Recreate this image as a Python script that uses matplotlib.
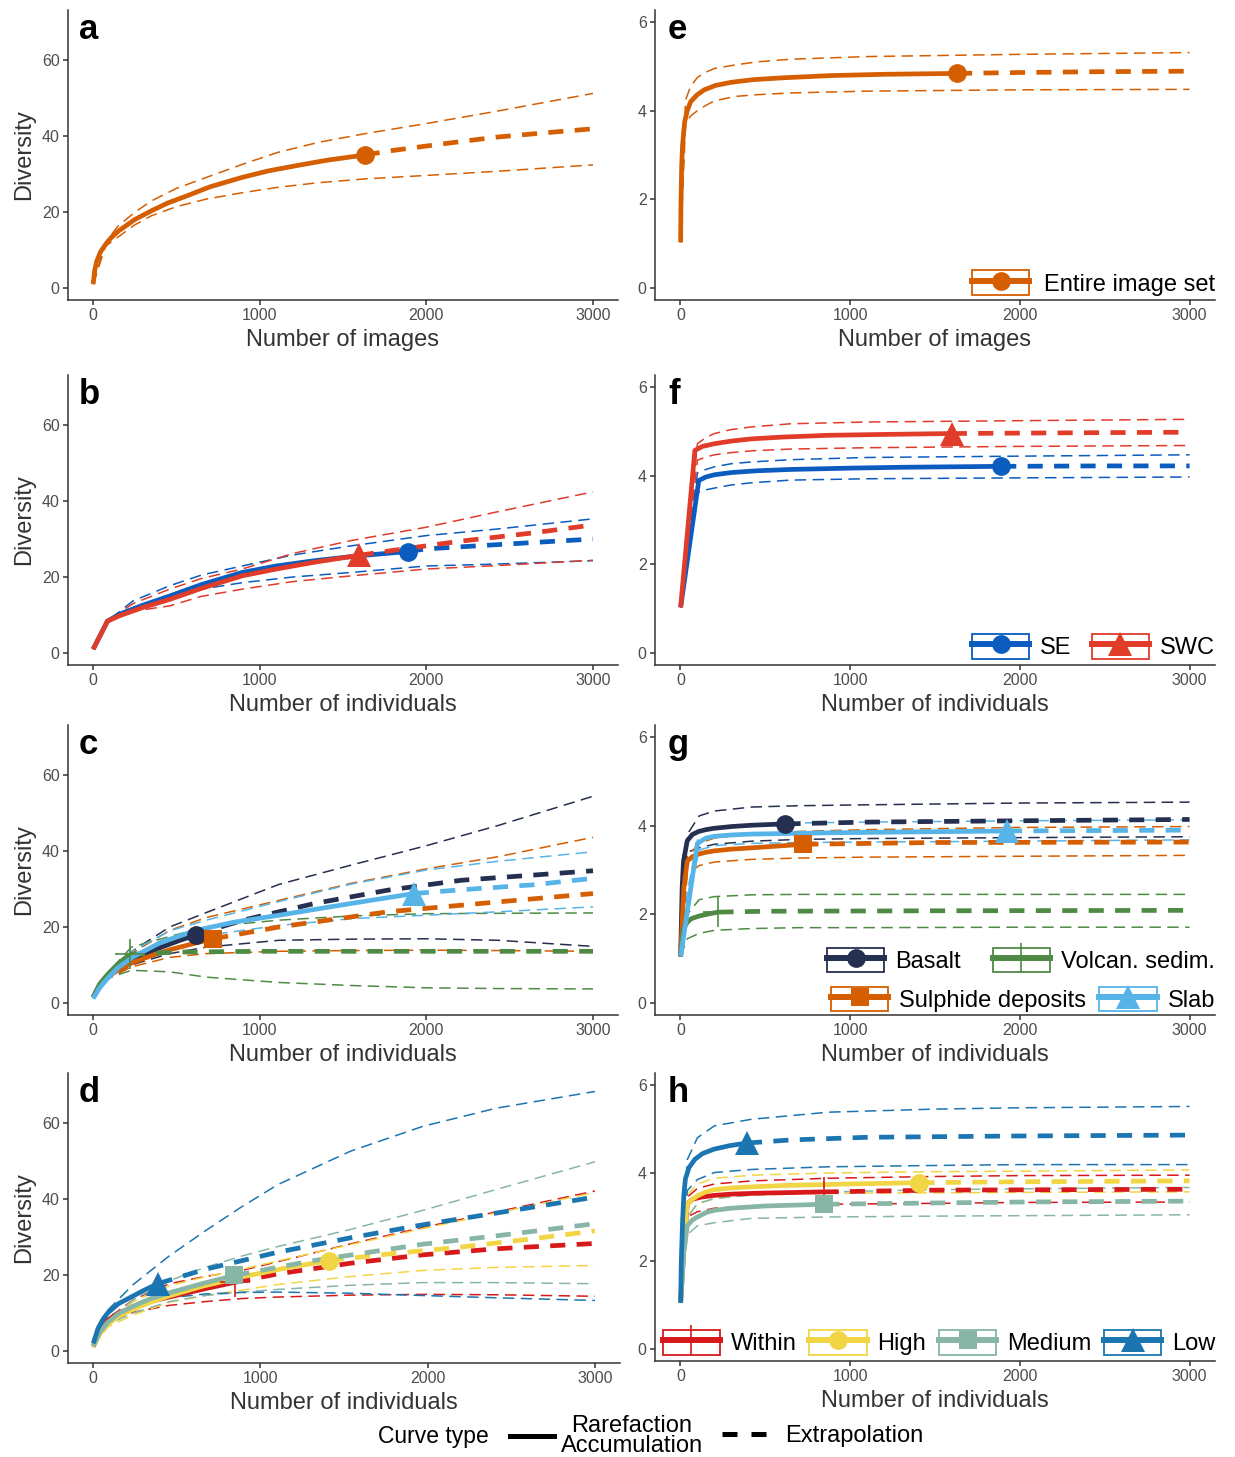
import numpy as np
import matplotlib
matplotlib.use("Agg")
import matplotlib.pyplot as plt
from matplotlib.lines import Line2D
from matplotlib.patches import Rectangle
from matplotlib.legend_handler import HandlerLine2D

plt.rcParams['font.family'] = ['Liberation Sans', 'DejaVu Sans']

# ---------------- data ----------------
# a / e : entire image set (x = number of images)
a_groups = ["Entire image set"]
a_obs_x = [1630]
a_obs_y = [35.0]
a_rare_x = [[1, 10, 22, 45, 76, 110, 153, 250, 350, 450, 567, 700, 894, 1050, 1221, 1400, 1630]]
a_rare_y = [[1, 4.5, 7, 9.5, 11.5, 13.3, 15, 18, 20.3, 22.4, 24.3, 26.6, 29.1, 30.8, 32.2, 33.6, 35.0]]
a_ext_x = [[1630, 1800, 1990, 2200, 2420, 2700, 3000]]
a_ext_y = [[35.0, 36.2, 37.3, 38.5, 39.7, 40.8, 41.9]]
a_ci_x = [1, 75, 150, 250, 350, 500, 680, 900, 1110, 1350, 1630, 1990, 2420, 3000]
a_lo = [[1, 11, 13.4, 16.6, 19.0, 21.4, 23.4, 25.1, 26.5, 27.7, 28.7, 29.6, 30.7, 32.4]]
a_hi = [[1, 12, 16.3, 19.9, 22.9, 26.2, 29.1, 32.6, 35.7, 38.3, 40.6, 43.2, 46.5, 51.2]]

e_obs_x = [1630]
e_obs_y = [4.84]
e_rare_x = [[1, 3, 7, 12, 18, 25, 40, 60, 96, 140, 208, 300, 431, 600, 878, 1200, 1630]]
e_rare_y = [[1.03, 1.9, 2.72, 3.2, 3.47, 3.75, 4.0, 4.2, 4.35, 4.47, 4.57, 4.64, 4.70, 4.74, 4.79, 4.82, 4.84]]
e_ext_x = [[1630, 2000, 2500, 3000]]
e_ext_y = [[4.84, 4.86, 4.88, 4.89]]
e_ci_x = [1, 30, 60, 100, 150, 200, 320, 450, 650, 1100, 2000, 3000]
e_lo = [[1.03, 3.7, 3.88, 4.0, 4.12, 4.22, 4.32, 4.36, 4.4, 4.44, 4.47, 4.48]]
e_hi = [[1.03, 4.24, 4.55, 4.75, 4.87, 4.95, 5.03, 5.1, 5.16, 5.22, 5.27, 5.31]]

# b / f : SE vs SWC
b_groups = ["SE", "SWC"]
b_obs_x = [1890, 1594]
b_obs_y = [26.7, 25.7]
b_rare_x = [[1, 87, 165, 300, 460, 650, 895, 1100, 1330, 1600, 1890],
            [1, 87, 165, 300, 460, 650, 895, 1100, 1330, 1594]]
b_rare_y = [[1, 8.4, 10.3, 12.6, 15.0, 18.0, 21.2, 22.9, 24.3, 25.6, 26.7],
            [1, 8.4, 9.9, 12.0, 14.1, 17.0, 20.3, 22.1, 23.9, 25.7]]
b_ext_x = [[1890, 2000, 2420, 3000], [1594, 1800, 2200, 2640, 3000]]
b_ext_y = [[26.7, 27.4, 28.5, 30.0], [25.7, 27.0, 29.4, 31.6, 33.7]]
b_ci_x = [1, 87, 240, 460, 650, 895, 1200, 1550, 2000, 2420, 3000]
b_lo = [[1, 8.4, 11.9, 14.6, 16.8, 18.5, 20.0, 21.2, 22.9, 23.4, 24.3],
        [1, 8.4, 11.0, 12.4, 14.9, 16.8, 18.8, 20.3, 22.1, 23.0, 24.4]]
b_hi = [[1, 8.4, 13.7, 17.7, 20.5, 22.9, 25.8, 28.2, 30.9, 32.6, 35.3],
        [1, 8.4, 13.0, 16.8, 19.6, 22.1, 26.2, 29.6, 33.1, 37.1, 42.4]]

f_obs_x = [1890, 1599]
f_obs_y = [4.21, 4.95]
f_rare_x = [[1, 108, 150, 200, 300, 450, 650, 1000, 1320, 1890],
            [1, 85, 130, 200, 300, 420, 600, 870, 1200, 1599]]
f_rare_y = [[1.03, 3.89, 3.97, 4.02, 4.07, 4.11, 4.14, 4.17, 4.19, 4.21],
            [1.03, 4.57, 4.66, 4.72, 4.78, 4.83, 4.87, 4.91, 4.93, 4.95]]
f_ext_x = [[1890, 2500, 3000], [1599, 2000, 2500, 3000]]
f_ext_y = [[4.21, 4.22, 4.22], [4.95, 4.96, 4.97, 4.98]]
f_ci_x = [1, 100, 150, 200, 300, 420, 650, 1100, 2000, 3000]
f_lo = [[1.03, 3.62, 3.68, 3.72, 3.79, 3.84, 3.9, 3.93, 3.95, 3.97],
        [1.03, 4.35, 4.42, 4.47, 4.52, 4.56, 4.6, 4.63, 4.66, 4.68]]
f_hi = [[1.03, 4.06, 4.14, 4.2, 4.27, 4.31, 4.36, 4.41, 4.44, 4.47],
        [1.03, 4.72, 4.86, 4.95, 5.04, 5.1, 5.17, 5.21, 5.24, 5.27]]

# c / g : substrate
c_groups = ["Basalt", "Sulphide deposits", "Volcan. sedim.", "Slab"]
c_obs_x = [616, 721, 220, 1925]
c_obs_y = [18.0, 16.9, 12.8, 28.8]
c_rare_x = [[1, 40, 87, 150, 230, 340, 460, 616],
            [1, 40, 87, 150, 230, 340, 460, 600, 721],
            [1, 40, 87, 150, 220],
            [1, 40, 87, 150, 240, 400, 616, 850, 1115, 1550, 1925]]
c_rare_y = [[1.5, 4.8, 7.0, 9.0, 11.2, 13.5, 15.5, 18.0],
            [1.5, 4.6, 6.8, 8.7, 10.5, 12.3, 14.0, 15.6, 16.9],
            [1.5, 5.0, 7.5, 10.3, 12.8],
            [1.2, 4.0, 6.5, 9.3, 12.1, 15.8, 19.1, 21.3, 23.1, 26.2, 28.8]]
c_ext_x = [[616, 900, 1330, 1770, 2210, 3000], [721, 1115, 1770, 2430, 3000],
           [220, 500, 1000, 2000, 3000], [1925, 2210, 2640, 3000]]
c_ext_y = [[18.0, 21.8, 26.2, 29.7, 32.3, 34.8], [16.9, 20.0, 24.0, 26.6, 28.8],
           [12.8, 13.4, 13.6, 13.6, 13.6], [28.8, 29.8, 31.1, 32.8]]
c_ci_x = [1, 87, 230, 460, 680, 1115, 1550, 2000, 2430, 3000]
c_lo = [[1.5, 6.5, 10.0, 13.0, 14.7, 16.5, 16.8, 16.9, 16.5, 14.9],
        [1.5, 6.3, 9.5, 12.0, 13.0, 13.6, 13.8, 13.9, 13.8, 13.6],
        [1.5, 6.5, 8.6, 8.2, 6.8, 5.4, 4.6, 4.0, 3.8, 3.7],
        [1.2, 6.0, 10.8, 15.5, 17.8, 20.4, 22.2, 23.1, 24.0, 25.3]]
c_hi = [[1.5, 7.5, 13.5, 20.0, 23.8, 31.2, 36.3, 41.4, 46.7, 54.4],
        [1.5, 7.5, 13.0, 19.1, 22.5, 27.0, 31.5, 35.3, 38.5, 43.6],
        [1.5, 7.8, 14.7, 17.5, 20.0, 21.8, 22.9, 23.5, 23.6, 23.7],
        [1.2, 7.0, 13.5, 19.0, 21.8, 26.7, 31.3, 35.0, 37.3, 39.8]]

g_obs_x = [619, 724, 224, 1924]
g_obs_y = [4.04, 3.58, 2.05, 3.88]
g_rare_x = [[1, 10, 18, 40, 70, 108, 150, 197, 300, 421, 619],
            [1, 20, 40, 70, 108, 150, 197, 300, 421, 724],
            [1, 18, 40, 63, 100, 130, 180, 224],
            [1, 100, 150, 200, 300, 420, 900, 1400, 1924]]
g_rare_y = [[1.05, 2.6, 3.2, 3.66, 3.8, 3.87, 3.91, 3.94, 3.98, 4.01, 4.04],
            [1.05, 2.6, 3.2, 3.3, 3.36, 3.4, 3.43, 3.47, 3.5, 3.58],
            [1.05, 1.67, 1.82, 1.9, 1.95, 1.98, 2.02, 2.05],
            [1.05, 3.6, 3.72, 3.76, 3.79, 3.81, 3.84, 3.86, 3.88]]
g_ext_x = [[619, 1094, 1991, 3000], [724, 1500, 3000], [224, 500, 1500, 3000], [1924, 2500, 3000]]
g_ext_y = [[4.04, 4.08, 4.11, 4.14], [3.58, 3.62, 3.63], [2.05, 2.07, 2.08, 2.09], [3.88, 3.89, 3.9]]
g_ci_x = [1, 40, 110, 200, 420, 700, 1100, 2000, 3000]
g_lo = [[1.05, 3.4, 3.5, 3.58, 3.65, 3.69, 3.71, 3.73, 3.75],
        [1.05, 2.9, 3.1, 3.18, 3.24, 3.27, 3.29, 3.31, 3.33],
        [1.05, 1.45, 1.57, 1.64, 1.68, 1.7, 1.7, 1.71, 1.71],
        [1.05, 2.2, 3.45, 3.55, 3.6, 3.62, 3.63, 3.65, 3.68]]
g_hi = [[1.05, 3.8, 4.22, 4.33, 4.42, 4.45, 4.47, 4.51, 4.53],
        [1.05, 3.3, 3.6, 3.72, 3.82, 3.87, 3.91, 3.96, 3.98],
        [1.05, 2.0, 2.33, 2.4, 2.44, 2.45, 2.45, 2.45, 2.45],
        [1.05, 2.5, 3.85, 3.95, 4.02, 4.06, 4.08, 4.11, 4.13]]

# d / h : distance class
d_groups = ["Within", "High", "Medium", "Low"]
d_obs_x = [850, 1409, 845, 386]
d_obs_y = [18.1, 23.8, 19.9, 17.7]
d_rare_x = [[1, 40, 87, 150, 240, 340, 455, 670, 850],
            [1, 40, 87, 150, 240, 340, 455, 650, 890, 1150, 1409],
            [1, 40, 87, 150, 240, 340, 455, 650, 845],
            [1, 30, 60, 87, 150, 240, 310, 386]]
d_rare_y = [[1.1, 5.5, 8.1, 9.9, 11.6, 13.0, 14.2, 16.4, 18.1],
            [1.1, 4.5, 7.0, 9.1, 11.0, 12.8, 14.5, 17.0, 19.5, 21.8, 23.8],
            [1.3, 5.0, 7.5, 9.8, 11.8, 13.7, 15.3, 17.7, 19.9],
            [2.0, 6.0, 8.4, 10.0, 12.4, 14.5, 16.1, 17.7]]
d_ext_x = [[850, 1105, 1540, 1970, 2410, 3000], [1409, 1760, 2190, 2620, 3000],
           [845, 1320, 1970, 2410, 3000], [386, 670, 1105, 1540, 1970, 2410, 3000]]
d_ext_y = [[18.1, 20.3, 23.1, 25.3, 26.9, 28.3], [23.8, 25.5, 27.3, 29.5, 31.6],
           [19.9, 23.8, 28.1, 30.3, 33.5], [17.7, 21.5, 26.0, 29.8, 33.2, 36.3, 40.5]]
d_ci_x = [1, 87, 240, 455, 670, 890, 1105, 1540, 1970, 2410, 3000]
d_lo = [[1.1, 7.7, 10.2, 12.0, 13.0, 13.8, 14.2, 14.7, 14.9, 14.8, 14.4],
        [1.1, 6.3, 9.5, 12.8, 14.6, 16.0, 17.5, 19.6, 21.2, 22.0, 22.5],
        [1.3, 7.0, 10.0, 13.0, 14.6, 15.5, 16.2, 17.3, 18.0, 18.0, 17.7],
        [2.0, 9.0, 12.0, 14.0, 15.0, 15.4, 15.5, 15.2, 14.6, 14.0, 13.3]]
d_hi = [[1.1, 8.5, 13.5, 17.7, 19.6, 21.2, 23.5, 28.2, 32.5, 36.6, 42.1],
        [1.1, 7.5, 13.0, 17.2, 19.5, 21.5, 23.7, 28.0, 32.2, 36.3, 41.7],
        [1.3, 8.0, 13.5, 18.5, 22.0, 25.0, 27.5, 32.0, 37.0, 42.5, 49.8],
        [2.0, 10.7, 17.5, 25.0, 31.6, 38.0, 43.8, 52.6, 59.1, 63.9, 68.3]]

h_obs_x = [843, 1408, 848, 392]
h_obs_y = [3.57, 3.78, 3.29, 4.68]
h_rare_x = [[1, 20, 40, 70, 120, 197, 300, 450, 843],
            [1, 20, 40, 70, 100, 150, 197, 300, 450, 646, 1000, 1408],
            [1, 20, 40, 70, 100, 150, 197, 300, 500, 848],
            [1, 5, 13, 20, 29, 50, 85, 130, 197, 290, 392]]
h_rare_y = [[1.05, 2.3, 3.3, 3.4, 3.45, 3.49, 3.52, 3.54, 3.57],
            [1.05, 2.4, 3.3, 3.4, 3.48, 3.57, 3.62, 3.66, 3.69, 3.72, 3.75, 3.78],
            [1.05, 2.2, 2.8, 2.93, 3.0, 3.1, 3.15, 3.2, 3.25, 3.29],
            [1.05, 2.0, 2.95, 3.5, 3.86, 4.12, 4.31, 4.44, 4.54, 4.62, 4.68]]
h_ext_x = [[843, 1500, 3000], [1408, 2000, 3000], [848, 2000, 3000], [392, 650, 1100, 2000, 3000]]
h_ext_y = [[3.57, 3.61, 3.63], [3.78, 3.8, 3.82], [3.29, 3.34, 3.36], [4.68, 4.75, 4.81, 4.84, 4.86]]
h_ci_x = [1, 40, 100, 200, 420, 870, 1500, 2000, 3000]
h_lo = [[1.05, 3.0, 3.12, 3.2, 3.25, 3.29, 3.31, 3.33, 3.34],
        [1.05, 3.0, 3.3, 3.42, 3.5, 3.54, 3.55, 3.56, 3.57],
        [1.05, 2.6, 2.8, 2.87, 2.97, 3.0, 3.02, 3.03, 3.05],
        [1.05, 3.6, 3.85, 4.01, 4.08, 4.14, 4.17, 4.19, 4.19]]
h_hi = [[1.05, 3.45, 3.65, 3.75, 3.82, 3.88, 3.92, 3.94, 3.95],
        [1.05, 3.5, 3.75, 3.88, 3.95, 4.0, 4.03, 4.04, 4.07],
        [1.05, 3.0, 3.3, 3.42, 3.5, 3.57, 3.62, 3.64, 3.67],
        [1.05, 4.3, 4.8, 5.07, 5.22, 5.38, 5.45, 5.48, 5.51]]

x_ticks = [0, 1000, 2000, 3000]
left_ticks = [0, 20, 40, 60]
right_ticks = [0, 2, 4, 6]

# ---------------- styles ----------------
a_cols = ["#D55E00"]
a_marks = ["o"]
b_cols = ["#0B5CBF", "#E13B2A"]
b_marks = ["o", "^"]
c_cols = ["#252F4F", "#D55E00", "#4F8A45", "#56B4E9"]
c_marks = ["o", "s", "+", "^"]
d_cols = ["#D7191C", "#F2D544", "#87B5A6", "#1B75B0"]
d_marks = ["+", "o", "s", "^"]
MS = {"o": 13.5, "s": 13, "^": 17, "+": 21}

W, H = 1235, 1457
fig = plt.figure(figsize=(W / 100, H / 100), dpi=100)


def add_ax(x0, y0, x1, y1):
    return fig.add_axes([x0 / W, 1 - y1 / H, (x1 - x0) / W, (y1 - y0) / H])


class BoxKey(HandlerLine2D):
    def create_artists(self, legend, orig_handle, xdescent, ydescent,
                       width, height, fontsize, trans):
        arts = super().create_artists(legend, orig_handle, xdescent, ydescent,
                                      width, height, fontsize, trans)
        box = Rectangle((-xdescent, -ydescent), width, height, fill=False,
                        ec=orig_handle.get_color(), lw=1.3, transform=trans)
        return [box] + list(arts)


def panel(ax, cols, marks, rare_x, rare_y, ext_x, ext_y, ci_x, lo, hi, obs_x, obs_y):
    for i, c in enumerate(cols):
        ax.plot(ci_x, lo[i], color=c, lw=1.1, dashes=(7.5, 4.2), zorder=2)
        ax.plot(ci_x, hi[i], color=c, lw=1.1, dashes=(7.5, 4.2), zorder=2)
    for i, c in enumerate(cols):
        ax.plot(ext_x[i], ext_y[i], color=c, lw=3.4, dashes=(3.2, 2.4), zorder=3)
        ax.plot(rare_x[i], rare_y[i], color=c, lw=3.4, solid_capstyle='butt',
                solid_joinstyle='round', zorder=3)
    for i, c in enumerate(cols):
        m = marks[i]
        ax.plot([obs_x[i]], [obs_y[i]], linestyle='none', marker=m, ms=MS[m], color=c,
                mew=(1.2 if m == '+' else 0), zorder=4)


def style(ax, right, label, xlab):
    for s in ['top', 'right']:
        ax.spines[s].set_visible(False)
    for s in ['left', 'bottom']:
        ax.spines[s].set_color('#333333')
        ax.spines[s].set_linewidth(1.1)
    ax.set_xlim(-150, 3150)
    ax.set_xticks(x_ticks)
    if right:
        ax.set_ylim(-0.27, 6.27)
        ax.set_yticks(right_ticks)
        dx = 13 / 560
    else:
        ax.set_ylim(-3.16, 73.16)
        ax.set_yticks(left_ticks)
        ax.set_ylabel("Diversity", fontsize=17, color='#333333', labelpad=5)
        dx = 11 / 550
    ax.tick_params(direction='out', length=3.5, width=1.1, color='#333333',
                   labelcolor='#4D4D4D', labelsize=11.5, pad=2.5)
    ax.set_xlabel(xlab, fontsize=17, color='#333333', labelpad=4)
    ax.text(dx, 1 - 29 / 290, label, transform=ax.transAxes, fontsize=25,
            fontweight='bold', va='baseline', ha='left')


def key(ax, names, cols, marks, y, colsp, pad):
    hs = [Line2D([], [], color=c, lw=4.3, marker=m, ms=MS[m], mew=(1.2 if m == '+' else 0))
          for c, m in zip(cols, marks)]
    return ax.legend(hs, names, loc='lower right', bbox_to_anchor=(1.0, y), ncol=len(names),
                     frameon=False, fontsize=17, handlelength=2.42, handleheight=1.23,
                     handletextpad=pad, columnspacing=colsp, borderpad=0, borderaxespad=0,
                     handler_map={Line2D: BoxKey()})


rows = [(10, 300), (375, 665), (725, 1015), (1073, 1363)]

ax_a = add_ax(68, rows[0][0], 618, rows[0][1])
panel(ax_a, a_cols, a_marks, a_rare_x, a_rare_y, a_ext_x, a_ext_y, a_ci_x, a_lo, a_hi, a_obs_x, a_obs_y)
style(ax_a, False, 'a', "Number of images")

ax_e = add_ax(655, rows[0][0], 1215, rows[0][1])
panel(ax_e, a_cols, a_marks, e_rare_x, e_rare_y, e_ext_x, e_ext_y, e_ci_x, e_lo, e_hi, e_obs_x, e_obs_y)
style(ax_e, True, 'e', "Number of images")
key(ax_e, a_groups, a_cols, a_marks, 0.015, 0.55, 0.62)

ax_b = add_ax(68, rows[1][0], 618, rows[1][1])
panel(ax_b, b_cols, b_marks, b_rare_x, b_rare_y, b_ext_x, b_ext_y, b_ci_x, b_lo, b_hi, b_obs_x, b_obs_y)
style(ax_b, False, 'b', "Number of individuals")

ax_f = add_ax(655, rows[1][0], 1215, rows[1][1])
panel(ax_f, b_cols, b_marks, f_rare_x, f_rare_y, f_ext_x, f_ext_y, f_ci_x, f_lo, f_hi, f_obs_x, f_obs_y)
style(ax_f, True, 'f', "Number of individuals")
key(ax_f, b_groups, b_cols, b_marks, 0.02, 0.85, 0.47)

ax_c = add_ax(68, rows[2][0], 618, rows[2][1])
panel(ax_c, c_cols, c_marks, c_rare_x, c_rare_y, c_ext_x, c_ext_y, c_ci_x, c_lo, c_hi, c_obs_x, c_obs_y)
style(ax_c, False, 'c', "Number of individuals")

ax_g = add_ax(655, rows[2][0], 1215, rows[2][1])
panel(ax_g, c_cols, c_marks, g_rare_x, g_rare_y, g_ext_x, g_ext_y, g_ci_x, g_lo, g_hi, g_obs_x, g_obs_y)
style(ax_g, True, 'g', "Number of individuals")
leg1 = key(ax_g, [c_groups[0], c_groups[2]], [c_cols[0], c_cols[2]], [c_marks[0], c_marks[2]],
           42 / 290, 1.35, 0.47)
ax_g.add_artist(leg1)
key(ax_g, [c_groups[1], c_groups[3]], [c_cols[1], c_cols[3]], [c_marks[1], c_marks[3]],
    0.01, 0.55, 0.47)

ax_d = add_ax(68, rows[3][0], 620, rows[3][1])
panel(ax_d, d_cols, d_marks, d_rare_x, d_rare_y, d_ext_x, d_ext_y, d_ci_x, d_lo, d_hi, d_obs_x, d_obs_y)
style(ax_d, False, 'd', "Number of individuals")

ax_h = add_ax(655, rows[3][0], 1215, rows[3][1] - 2)
panel(ax_h, d_cols, d_marks, h_rare_x, h_rare_y, h_ext_x, h_ext_y, h_ci_x, h_lo, h_hi, h_obs_x, h_obs_y)
style(ax_h, True, 'h', "Number of individuals")
key(ax_h, d_groups, d_cols, d_marks, 0.02, 0.55, 0.45)

# curve type legend at the bottom
yb = 1 - 1436 / H
fig.text(378 / W, yb, "Curve type", fontsize=16.5, va='center', ha='left')
solid = Line2D([], [], color='black', lw=3.6)
dashed = Line2D([], [], color='black', lw=3.6, dashes=(3.0, 2.8))
lgA = fig.legend([solid], ["Rarefaction\nAccumulation"], loc='center left',
                 bbox_to_anchor=(510 / W, yb), frameon=False, fontsize=17,
                 handlelength=1.86, handletextpad=0.3, borderpad=0, borderaxespad=0)
for t in lgA.get_texts():
    t.set_multialignment('center')
    t.set_linespacing(0.9)
fig.legend([dashed], ["Extrapolation"], loc='center left', bbox_to_anchor=(722 / W, yb),
           frameon=False, fontsize=17, handlelength=1.86, handletextpad=0.8,
           borderpad=0, borderaxespad=0)

fig.savefig("out.png", dpi=100)
